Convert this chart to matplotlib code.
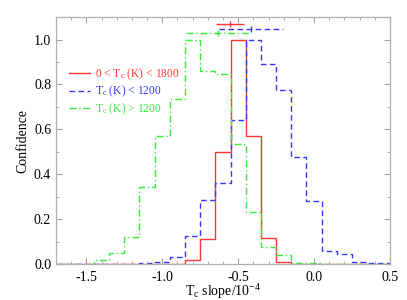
import numpy as np
import matplotlib
matplotlib.use('Agg')
import matplotlib.pyplot as plt
from matplotlib.ticker import MultipleLocator

# ── Data: normalised posterior histograms, bin width 0.1 ─────────────────────
bin_centers = [-1.7, -1.6, -1.5, -1.4, -1.3, -1.2, -1.1, -1.0, -0.9, -0.8,
               -0.7, -0.6, -0.5, -0.4, -0.3, -0.2, -0.1, 0.0, 0.1, 0.2,
               0.3, 0.4, 0.5]

conf_all = [0, 0, 0, 0, 0, 0, 0, 0, 0, 0.018,
            0.11, 0.50, 1.00, 0.57, 0.115, 0.01, 0, 0, 0, 0,
            0, 0, 0]
conf_cool = [0, 0, 0, 0, 0, 0.002, 0.005, 0.008, 0.03, 0.125,
             0.285, 0.36, 0.64, 1.00, 0.89, 0.775, 0.478, 0.282, 0.06, 0.045,
             0.008, 0.005, 0.003]
conf_hot = [0, 0, 0, 0.02, 0.047, 0.12, 0.342, 0.57, 0.737, 1.00,
            0.86, 0.846, 0.534, 0.233, 0.076, 0.038, 0.003, 0.003, 0, 0,
            0, 0, 0]

# best-fit slope and 1-sigma, drawn above the histograms
fit_slope = [-0.555, -0.415, -0.63]
fit_err   = [0.092, 0.21, 0.212]
fit_level = [1.069, 1.049, 1.028]

labels = [r'0 < T$_{\rm c}$ (K) < 1800',
          r'T$_{\rm c}$ (K) < 1200',
          r'T$_{\rm c}$ (K) > 1200']
colors = ['#ff3535', '#3535ff', '#35ee35']
styles = ['-', (0, (4, 2.5)), (0, (5, 2, 1, 2))]

# ── Plot ─────────────────────────────────────────────────────────────────────
plt.rcParams.update({'font.family': 'Liberation Serif',
                     'mathtext.fontset': 'custom',
                     'mathtext.rm': 'Liberation Serif',
                     'mathtext.it': 'Liberation Serif:italic',
                     'axes.unicode_minus': False,
                     'font.size': 10})

fig = plt.figure(figsize=(4.07, 3.0), dpi=100)
ax = fig.add_axes([0.1376, 0.12, 0.8206, 0.823])

centers = np.array(bin_centers)
edges = np.append(centers - 0.05, centers[-1] + 0.05)

for vals, lab, col, ls in zip([conf_all, conf_cool, conf_hot], labels, colors, styles):
    ax.stairs(vals, edges, color=col, ls=ls, lw=1.0, label=lab, baseline=None)

for x, e, y, col, ls in zip(fit_slope, fit_err, fit_level, colors, styles):
    ax.hlines(y, x - e, x + e, colors=col, linestyles=[ls], lw=1.0)
    ax.plot([x], [y], marker='|', ms=5, mew=1.0, color=col)

ax.set_xlim(-1.7, 0.5)
ax.set_ylim(0, 1.1)
ax.xaxis.set_major_locator(MultipleLocator(0.5))
ax.xaxis.set_minor_locator(MultipleLocator(0.1))
ax.yaxis.set_major_locator(MultipleLocator(0.2))
ax.yaxis.set_minor_locator(MultipleLocator(0.1))
ax.tick_params(which='both', direction='in', top=True, right=True,
               color='#a0a0a0', labelsize=10)
ax.tick_params(which='major', length=4)
ax.tick_params(which='minor', length=2.5)
ax.tick_params(axis='x', pad=5)
for sp in ax.spines.values():
    sp.set_color('#b0b0b0')
    sp.set_linewidth(0.9)

ax.set_xlabel(r'T$_{\rm c}$ slope/10$^{-4}$', fontsize=10, labelpad=-1)
ax.set_ylabel('Confidence', fontsize=10, labelpad=3)

leg = ax.legend(loc='upper left', bbox_to_anchor=(0.025, 0.82), frameon=False,
                fontsize=8.3, handlelength=1.8, handletextpad=0.45,
                labelspacing=0.2, borderaxespad=0)
for txt, col in zip(leg.get_texts(), colors):
    txt.set_color(col)

plt.savefig('out.png', dpi=100)
plt.close()
